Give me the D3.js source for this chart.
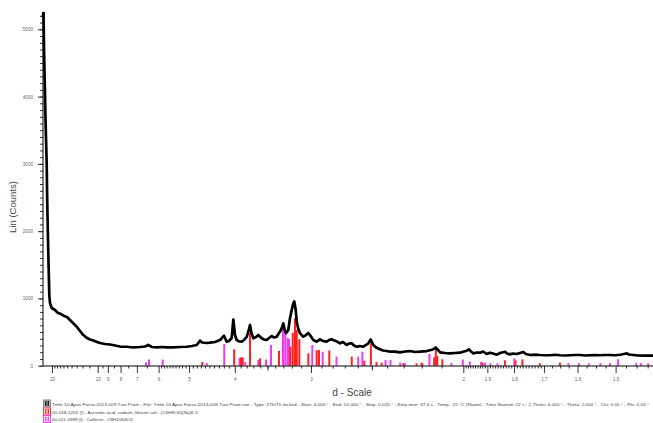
<!DOCTYPE html>
<html><head><meta charset="utf-8">
<script src="https://cdn.jsdelivr.net/npm/d3@7"></script>
<style>
html,body{margin:0;padding:0;background:#fff;}
svg{display:block;font-family:"Liberation Sans",Arial,sans-serif;}
</style></head>
<body><svg id="c" width="653" height="423"></svg>
<script>
// ---- data (d-spacing in Å, intensity in counts) ----
const patternD = [24.57,24.24,23.80,23.44,23.02,22.62,22.35,21.92,21.56,21.26,20.92,20.13,18.77,17.68,16.71,15.84,15.06,14.35,13.70,12.98,12.40,11.87,11.33,10.92,10.51,10.08,9.755,9.260,8.814,8.408,8.039,7.591,7.214,6.836,6.590,6.437,6.273,6.065,5.870,5.688,5.483,5.262,5.067,4.922,4.800,4.743,4.719,4.670,4.561,4.487,4.380,4.277,4.237,4.198,4.147,4.104,4.055,4.026,3.997,3.967,3.928,3.883,3.845,3.802,3.774,3.750,3.728,3.700,3.660,3.627,3.579,3.547,3.510,3.479,3.444,3.414,3.380,3.352,3.339,3.319,3.300,3.283,3.268,3.241,3.222,3.202,3.185,3.174,3.158,3.147,3.133,3.112,3.077,3.050,3.026,3.010,2.977,2.945,2.914,2.886,2.853,2.832,2.809,2.781,2.739,2.715,2.685,2.667,2.646,2.629,2.608,2.584,2.560,2.541,2.525,2.508,2.499,2.490,2.472,2.446,2.426,2.403,2.382,2.351,2.322,2.292,2.264,2.236,2.209,2.174,2.152,2.141,2.129,2.117,2.107,2.083,2.060,2.037,2.015,1.997,1.985,1.975,1.967,1.957,1.942,1.929,1.917,1.903,1.890,1.878,1.864,1.851,1.833,1.825,1.815,1.804,1.791,1.779,1.768,1.759,1.745,1.729,1.713,1.697,1.681,1.666,1.651,1.636,1.621,1.607,1.593,1.579,1.566,1.553,1.540,1.527,1.514,1.502,1.489,1.480,1.473,1.468,1.458,1.447,1.435,1.424,1.413];
const patternCounts = [5257,4722,4248,3801,3385,2984,2463,1868,1422,1051,932,858,828,783,768,739,724,679,635,580,516,456,412,389,375,352,337,323,315,300,285,282,271,278,285,308,278,271,278,271,273,278,282,293,308,352,372,345,337,342,352,382,412,446,357,367,412,687,456,382,360,357,382,427,516,605,486,407,427,456,407,389,382,412,441,419,431,486,505,556,630,531,482,531,705,828,927,954,828,654,560,482,431,456,486,456,382,357,392,367,357,382,392,372,333,352,308,330,333,300,282,293,282,308,333,389,345,308,271,244,226,218,208,208,199,211,218,204,208,218,233,244,271,233,199,189,184,189,193,211,223,244,211,184,196,193,211,174,193,181,163,189,208,181,169,181,174,189,204,174,159,166,159,155,155,163,155,152,155,159,159,152,155,159,155,159,159,155,163,174,184,166,159,152,149,152,149];

// reference card 00-018-1202 (red sticks)
const redD = [4.663,4.011,3.894,3.866,3.750,3.603,3.352,3.218,3.191,3.166,3.147,3.119,3.026,2.945,2.923,2.830,2.646,2.553,2.507,2.469,2.435,2.302,2.228,2.201,2.136,2.128,2.121,2.096,1.919,1.833,1.795,1.771,1.713,1.651];
const redI = [55,244,125,122,486,110,223,282,490,705,531,392,184,233,233,226,134,74,333,55,45,36,36,45,125,259,144,95,45,80,77,95,36,45];
// reference card 00-021-0999 (magenta sticks)
const magD = [6.543,6.405,5.844,4.561,4.193,3.919,3.824,3.627,3.519,3.453,3.303,3.276,3.250,3.233,2.987,2.889,2.768,2.597,2.567,2.410,2.379,2.320,2.292,2.196,2.160,2.053,2.002,1.972,1.925,1.909,1.888,1.861,1.799,1.626,1.596,1.569,1.538,1.514,1.494,1.451,1.440,1.424];
const magI = [48,92,92,40,323,114,55,85,92,308,630,531,412,397,308,208,134,134,208,85,85,48,36,36,174,40,92,62,59,45,36,36,110,36,36,36,36,36,95,36,36,36];

const xTickValues = [20,10,9,8,7,6,5,4,3,2,1.9,1.8,1.7,1.6,1.5];
const xTickLabels = ["20","10","9","8","7","6","5","4","3","2","1.9","1.8","1.7","1.6","1.5"];
const yTickValues = [0,1000,2000,3000,4000,5000];
const yTickLabels = ["0","1000","2000","3000","4000","5000"];
const legendLabels = [
  "Tmfe 10 Apos Forso-2013-009 Tvoi Pram - File: Tmfe 10 Apos Forso-2013-009 Tvoi Pram.raw - Type: 2Th/Th locked - Start: 4.000 \u00b0 - End: 50.000 \u00b0 - Step: 0.020 \u00b0 - Step time: 37.4 s - Temp.: 25 \u00b0C (Room) - Time Started: 22 s - 2-Theta: 4.000 \u00b0 - Theta: 2.000 \u00b0 - Chi: 0.00 \u00b0 - Phi: 0.00 \u00b0",
  "00-018-1202 (I) - Ascorbic acid, sodium, lithium salt - (C6H8O6)(Na)K-5",
  "00-021-0999 (I) - Caffeine - C8H10N4O2"
];

// ---- drawing ----
const svg = d3.select("#c");
const x = d3.scaleLinear().domain([0.04015, 0.70755]).range([43, 653]);
const y = d3.scaleLinear().domain([0, 5250]).range([365.7, 12.5]);
const xd = d => x(1 / d);

// sticks
function sticks(D, I, color) {
  svg.append("g").selectAll("rect").data(D.map((d, i) => [d, I[i]])).join("rect")
    .attr("x", p => xd(p[0]) - 1).attr("width", 2)
    .attr("y", p => y(p[1])).attr("height", p => y(0) - y(p[1]))
    .attr("fill", color);
}
sticks(magD, magI, "#f03cf0");
sticks(redD, redI, "#ff2020");

// pattern
const line = d3.line().x(d => xd(d)).y((d, i) => y(patternCounts[i]));
svg.append("path").attr("d", line(patternD))
  .attr("fill", "none").attr("stroke", "#000").attr("stroke-width", 2.7)
  .attr("stroke-linejoin", "round");

// y axis
const yMinor = d3.range(0, 5201, 100);
svg.append("g").attr("transform", "translate(43,0)")
  .call(d3.axisLeft(y).tickValues(yMinor).tickSize(3).tickFormat(""))
  .call(g => g.select(".domain").remove())
  .call(g => g.selectAll("line").attr("stroke", "#333"));
svg.append("g").attr("transform", "translate(43,0)")
  .call(d3.axisLeft(y).tickValues(yTickValues).tickSize(5).tickPadding(5)
        .tickFormat((d, i) => yTickLabels[i]))
  .call(g => g.select(".domain").remove())
  .call(g => g.selectAll("line").attr("stroke", "#333"))
  .call(g => g.selectAll("text").attr("font-size", 4.6).attr("fill", "#666")
        .attr("font-family", "Liberation Sans, Arial, sans-serif"));
svg.append("line").attr("x1", 43).attr("x2", 43).attr("y1", y(0)).attr("y2", 13)
  .attr("stroke", "#000").attr("stroke-width", 1);
svg.append("path").attr("d", "M41,17 L43,11 L45,17 Z").attr("fill", "#000");

// x axis
const minorD = [];
for (let d = 19; d >= 11; d -= 1) minorD.push(d);
[9.5, 8.5, 7.5, 6.5].forEach(d => minorD.push(d));
for (let k = 59; k >= 41; k--) if (k !== 50) minorD.push(k / 10);
for (let k = 39; k >= 21; k--) if (k !== 30) minorD.push(k / 10);
for (let k = 199; k >= 171; k--) if (k % 10) minorD.push(k / 100);
for (let k = 1675; k >= 1410; k -= 25) if (k % 100) minorD.push(k / 1000);
svg.append("g").attr("transform", "translate(0,366)")
  .call(d3.axisBottom(x).tickValues(minorD.map(d => 1 / d)).tickSize(2.5).tickFormat(""))
  .call(g => g.select(".domain").remove())
  .call(g => g.selectAll("line").attr("stroke", "#333"));
svg.append("g").attr("transform", "translate(0,366)")
  .call(d3.axisBottom(x).tickValues([3.5, 2.5].map(d => 1 / d)).tickSize(4.5).tickFormat(""))
  .call(g => g.select(".domain").remove())
  .call(g => g.selectAll("line").attr("stroke", "#333"));
svg.append("g").attr("transform", "translate(0,366)")
  .call(d3.axisBottom(x).tickValues(xTickValues.map(d => 1 / d)).tickSize(7).tickPadding(5)
        .tickFormat((d, i) => xTickLabels[i]))
  .call(g => g.select(".domain").remove())
  .call(g => g.selectAll("line").attr("stroke", "#333"))
  .call(g => g.selectAll("text").attr("font-size", 4.6).attr("fill", "#666")
        .attr("font-family", "Liberation Sans, Arial, sans-serif"));
svg.append("line").attr("x1", 43).attr("x2", 653).attr("y1", 366).attr("y2", 366)
  .attr("stroke", "#000").attr("stroke-width", 1);

// axis titles
svg.append("text").attr("x", 352).attr("y", 396).attr("text-anchor", "middle")
  .attr("font-size", 10).attr("fill", "#444").text("d - Scale");
svg.append("text").attr("transform", "translate(16,207) rotate(-90)").attr("text-anchor", "middle")
  .attr("font-size", 9.5).attr("fill", "#444").text("Lin (Counts)");

// legend
const legY = [404, 412, 419.5];
const legW = [597, 146, 81];
const legColors = ["#888", "#ff3030", "#f040f0"];
legendLabels.forEach((t, i) => {
  const g = svg.append("g");
  g.append("rect").attr("x", 43.5).attr("y", legY[i] - 4).attr("width", 7).attr("height", 7)
    .attr("fill", i === 0 ? "#bbb" : "#fff").attr("stroke", legColors[i]).attr("stroke-width", 1);
  const barCol = i === 0 ? "#222" : legColors[i];
  g.append("rect").attr("x", 45).attr("y", legY[i] - 3).attr("width", 1.5).attr("height", 5).attr("fill", barCol);
  g.append("rect").attr("x", 47.5).attr("y", legY[i] - 3).attr("width", 1.5).attr("height", 5).attr("fill", barCol);
  g.append("text").attr("x", 52).attr("y", legY[i] + 1.6).attr("font-size", 4.3)
    .attr("fill", "#444").attr("textLength", legW[i]).attr("lengthAdjust", "spacingAndGlyphs").text(t);
});
</script></body></html>
